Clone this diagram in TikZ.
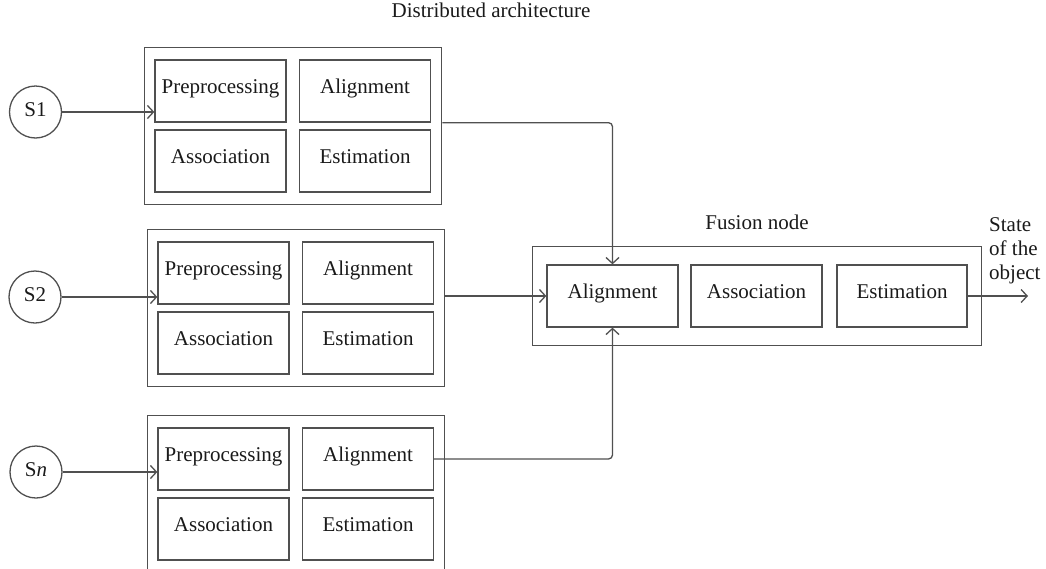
\documentclass[tikz,border=0pt]{standalone}
\usepackage{fontspec}
\setmainfont{Liberation Serif}
\usetikzlibrary{arrows.meta}
\definecolor{lc}{HTML}{505050}
\definecolor{tc}{HTML}{1A1A1A}
\newcommand\sblock[3]{%
  \node[obox, minimum width=297pt, minimum height=157pt, anchor=north west] (o#1) at (#2,#3) {};
  \node[ibox] (p#1) at (#2+76.5,#3+44) {Preprocessing};
  \node[ibox] (a#1) at (#2+221,#3+44) {Alignment};
  \node[ibox] (s#1) at (#2+76.5,#3+114) {Association};
  \node[ibox] (e#1) at (#2+221,#3+114) {Estimation};
}
\begin{document}
\begin{tikzpicture}[x=1pt,y=-1pt,
  line/.style={draw=lc, line width=1.3pt},
  ibox/.style={line, minimum width=131pt, minimum height=62pt, inner sep=0pt, text height=15pt, text depth=10pt},
  obox/.style={line, inner sep=0pt},
  sensor/.style={circle, line, minimum size=52pt, inner sep=0pt, text height=14pt, text depth=6pt},
  lbl/.style={inner sep=0pt, text height=15pt, text depth=10pt},
  conn/.style={line, -{Straight Barb[length=6pt,width=13pt]}, rounded corners=4pt},
  every node/.style={font=\fontsize{21}{24}\selectfont, text=tc}]
\clip (0,0) rectangle (1046,568);

\node[lbl] (title) at (491,14.5) {Distributed architecture};

\sblock{1}{144}{47}
\sblock{2}{147}{229}
\sblock{3}{147}{415}

\node[sensor] (S1) at (35.5,112) {S1};
\node[sensor] (S2) at (35,297) {S2};
\node[sensor] (Sn) at (36,472) {S\textit{n}};

% fusion node
\node[obox, minimum width=449pt, minimum height=99pt, anchor=north west] (fus) at (532,246) {};
\node[lbl] (fuslbl) at (757,226.5) {Fusion node};
\node[ibox] (fa) at (612.5,296) {Alignment};
\node[ibox] (fs) at (756.5,296) {Association};
\node[ibox, minimum width=130pt] (fe) at (902,296) {Estimation};
\node[anchor=west, inner sep=0pt, align=left] (state) at (989,251) {State\\of the\\object};
\coordinate (out) at (1028,296);

% connectors
\draw[conn] (S1.east) -- (S1 -| p1.west);
\draw[conn] (S2.east) -- (S2 -| p2.west);
\draw[conn] (Sn.east) -- (Sn -| p3.west);
\draw[conn] (o1.east |- a1.south) -| (fa.north);
\draw[conn] (fa.west -| o2.east) -- (fa.west);
\draw[conn] (a3.east) -| (fa.south);
\draw[conn] (fe.east) -- (out);
\end{tikzpicture}
\end{document}
